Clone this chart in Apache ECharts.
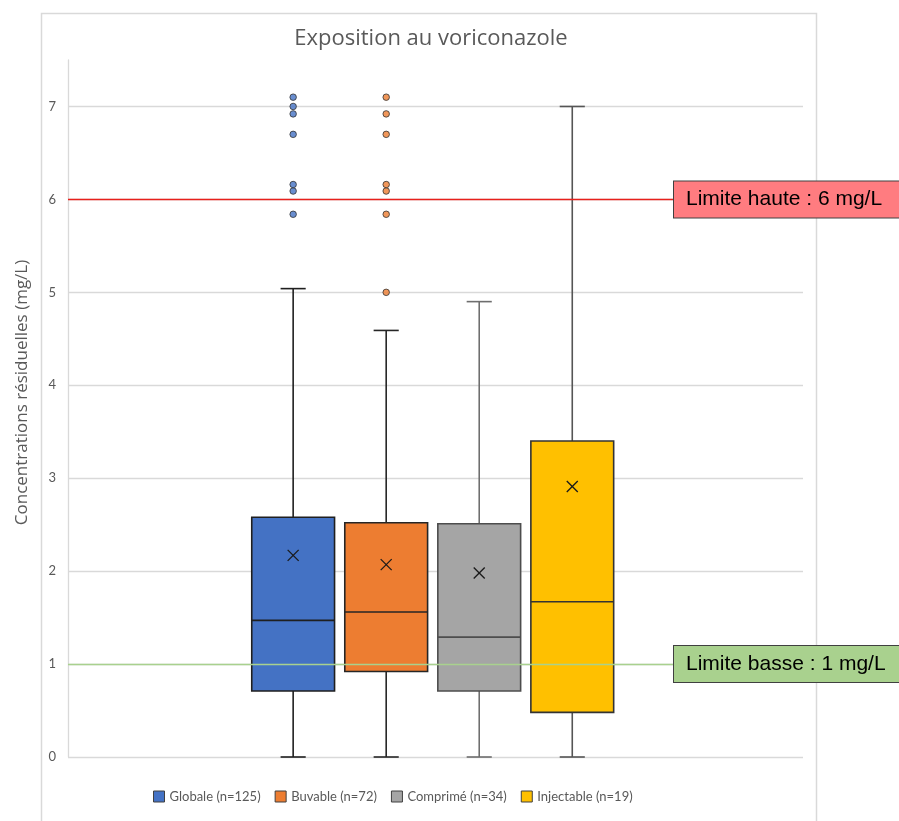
<!DOCTYPE html>
<html>
<head>
<meta charset="utf-8">
<script src="https://cdn.jsdelivr.net/npm/echarts@6/dist/echarts.min.js"></script>
<style>
  html, body { margin: 0; padding: 0; background: #fff; }
  #chart { width: 899px; height: 821px; }
</style>
</head>
<body>
<div id="chart"></div>
<script>
// Résumé des concentrations résiduelles de voriconazole (mg/L) par forme galénique
const groups = ['Globale (n=125)', 'Buvable (n=72)', 'Comprimé (n=34)', 'Injectable (n=19)'];
const whiskerLow = [0, 0, 0, 0];
const q1 = [0.71, 0.92, 0.71, 0.48];
const median = [1.47, 1.56, 1.29, 1.67];
const q3 = [2.58, 2.52, 2.51, 3.40];
const whiskerHigh = [5.04, 4.59, 4.90, 7.00];
const mean = [2.17, 2.07, 1.98, 2.91];
const outliers = [
  [5.84, 6.09, 6.16, 6.70, 6.92, 7.00, 7.10],
  [5.00, 5.84, 6.09, 6.16, 6.70, 6.92, 7.10],
  [],
  []
];
const limitValues = [6, 1];
const limitLabels = ['Limite haute : 6 mg/L', 'Limite basse : 1 mg/L'];
const yTicks = [0, 1, 2, 3, 4, 5, 6, 7];

const fills = ['#4472c4', '#ed7d31', '#a5a5a5', '#ffc000'];
const boxBorders = ['#1f1f1f', '#262626', '#4d4d4d', '#333333'];
const whiskerColors = ['#1f1f1f', '#262626', '#6e6e6e', '#555555'];
const limitLineColors = ['#e8201c', '#a9d18e'];
const limitFills = ['#ff7c80', '#a9d18e'];
const font = 'Lato, "Open Sans", sans-serif';
const wideFont = '"Open Sans", Lato, sans-serif';

function makeRenderer(i) {
  return function (params, api) {
    const x = api.value(0);
    const lo = api.coord([x, api.value(1)]);
    const b1 = api.coord([x, api.value(2)]);
    const md = api.coord([x, api.value(3)]);
    const b3 = api.coord([x, api.value(4)]);
    const hi = api.coord([x, api.value(5)]);
    const mn = api.coord([x, api.value(6)]);
    const unit = api.size([1, 0])[0];
    const bw = unit * 0.89;
    const cw = unit * 0.27;
    const cx = lo[0];
    const ws = { stroke: whiskerColors[i], lineWidth: 1.6 };
    const k = 5.5;
    return {
      type: 'group',
      children: [
        { type: 'line', shape: { x1: cx, y1: hi[1], x2: cx, y2: b3[1] }, style: ws },
        { type: 'line', shape: { x1: cx, y1: b1[1], x2: cx, y2: lo[1] }, style: ws },
        { type: 'line', shape: { x1: cx - cw / 2, y1: hi[1], x2: cx + cw / 2, y2: hi[1] }, style: ws },
        { type: 'line', shape: { x1: cx - cw / 2, y1: lo[1], x2: cx + cw / 2, y2: lo[1] }, style: ws },
        { type: 'rect', shape: { x: cx - bw / 2, y: b3[1], width: bw, height: b1[1] - b3[1] },
          style: { fill: fills[i], stroke: boxBorders[i], lineWidth: 1.6 } },
        { type: 'line', shape: { x1: cx - bw / 2, y1: md[1], x2: cx + bw / 2, y2: md[1] },
          style: { stroke: boxBorders[i], lineWidth: 1.6 } },
        { type: 'line', shape: { x1: mn[0] - k, y1: mn[1] - k, x2: mn[0] + k, y2: mn[1] + k },
          style: { stroke: '#1a1a1a', lineWidth: 1.3 } },
        { type: 'line', shape: { x1: mn[0] - k, y1: mn[1] + k, x2: mn[0] + k, y2: mn[1] - k },
          style: { stroke: '#1a1a1a', lineWidth: 1.3 } }
      ]
    };
  };
}

const series = [];

// Seuils thérapeutiques : une série de repère par limite
limitValues.forEach(function (v, j) {
  series.push({
    name: limitLabels[j],
    type: 'scatter',
    data: [],
    silent: true,
    color: limitLineColors[j],
    itemStyle: { color: limitLineColors[j] },
    markLine: {
      silent: true,
      symbol: ['none', 'none'],
      animation: false,
      z: 10,
      data: [{
        yAxis: v,
        lineStyle: { color: limitLineColors[j], width: 1.4, type: 'solid', opacity: 1 },
        label: {
          show: true,
          position: 'end',
          offset: [-134, 0],
          formatter: limitLabels[j],
          color: '#000',
          fontFamily: '"Liberation Sans", Arial, sans-serif',
          fontSize: 21,
          lineHeight: 22,
          backgroundColor: limitFills[j],
          borderColor: '#404040',
          borderWidth: 1,
          padding: [7, 30, 7, 12]
        }
      }]
    },
    z: 6
  });
});

groups.forEach(function (name, i) {
  series.push({
    name: name,
    type: 'custom',
    silent: true,
    renderItem: makeRenderer(i),
    itemStyle: { color: fills[i] },
    encode: { x: 0, y: [1, 2, 3, 4, 5, 6] },
    data: [[i, whiskerLow[i], q1[i], median[i], q3[i], whiskerHigh[i], mean[i]]],
    z: 3
  });
  if (outliers[i].length) {
    series.push({
      name: name,
      type: 'scatter',
      silent: true,
      symbol: 'circle',
      symbolSize: 6.5,
      itemStyle: { color: fills[i], borderColor: '#333', borderWidth: 1 },
      data: outliers[i].map(function (v) { return [i, v]; }),
      z: 4
    });
  }
});

const chart = echarts.init(document.getElementById('chart'), null, { renderer: 'canvas' });
chart.setOption({
  animation: false,
  backgroundColor: '#fff',
  graphic: [{
    type: 'rect',
    left: 39, top: 11,
    shape: { width: 775, height: 900 },
    style: { fill: 'none', stroke: '#d9d9d9', lineWidth: 1.5 },
    silent: true, z: -1
  }],
  title: {
    text: 'Exposition au voriconazole',
    left: 426, top: 23,
    textAlign: 'center',
    textStyle: { color: '#595959', fontFamily: wideFont, fontSize: 22, fontWeight: 'normal' }
  },
  legend: {
    data: groups,
    left: 153, top: 790, padding: 0,
    icon: 'rect',
    itemWidth: 11, itemHeight: 11,
    itemGap: 14, itemTextGap: 6,
    itemStyle: { borderColor: '#404040', borderWidth: 1 },
    textStyle: { color: '#595959', fontFamily: font, fontSize: 13 }
  },
  grid: { left: 68, right: 96, top: 60, bottom: 64 },
  xAxis: { type: 'value', min: -2.42, max: 5.48, show: false },
  yAxis: {
    type: 'value',
    min: yTicks[0], max: 7.5, interval: 1,
    name: 'Concentrations résiduelles (mg/L)',
    nameLocation: 'middle',
    nameGap: 37,
    nameTextStyle: { color: '#595959', fontFamily: wideFont, fontSize: 17, padding: [0, 0, 0, 32] },
    axisLine: { show: true, onZero: false, lineStyle: { color: '#d9d9d9', width: 1.3 } },
    axisTick: { show: false },
    axisLabel: {
      color: '#595959', fontFamily: font, fontSize: 13, margin: 12,
      showMaxLabel: false,
      formatter: function (v) { return yTicks.indexOf(v) >= 0 ? String(v) : ''; }
    },
    splitLine: { show: true, showMaxLine: false, lineStyle: { color: '#d9d9d9', width: 1.3 } }
  },
  series: series
});
</script>
</body>
</html>
